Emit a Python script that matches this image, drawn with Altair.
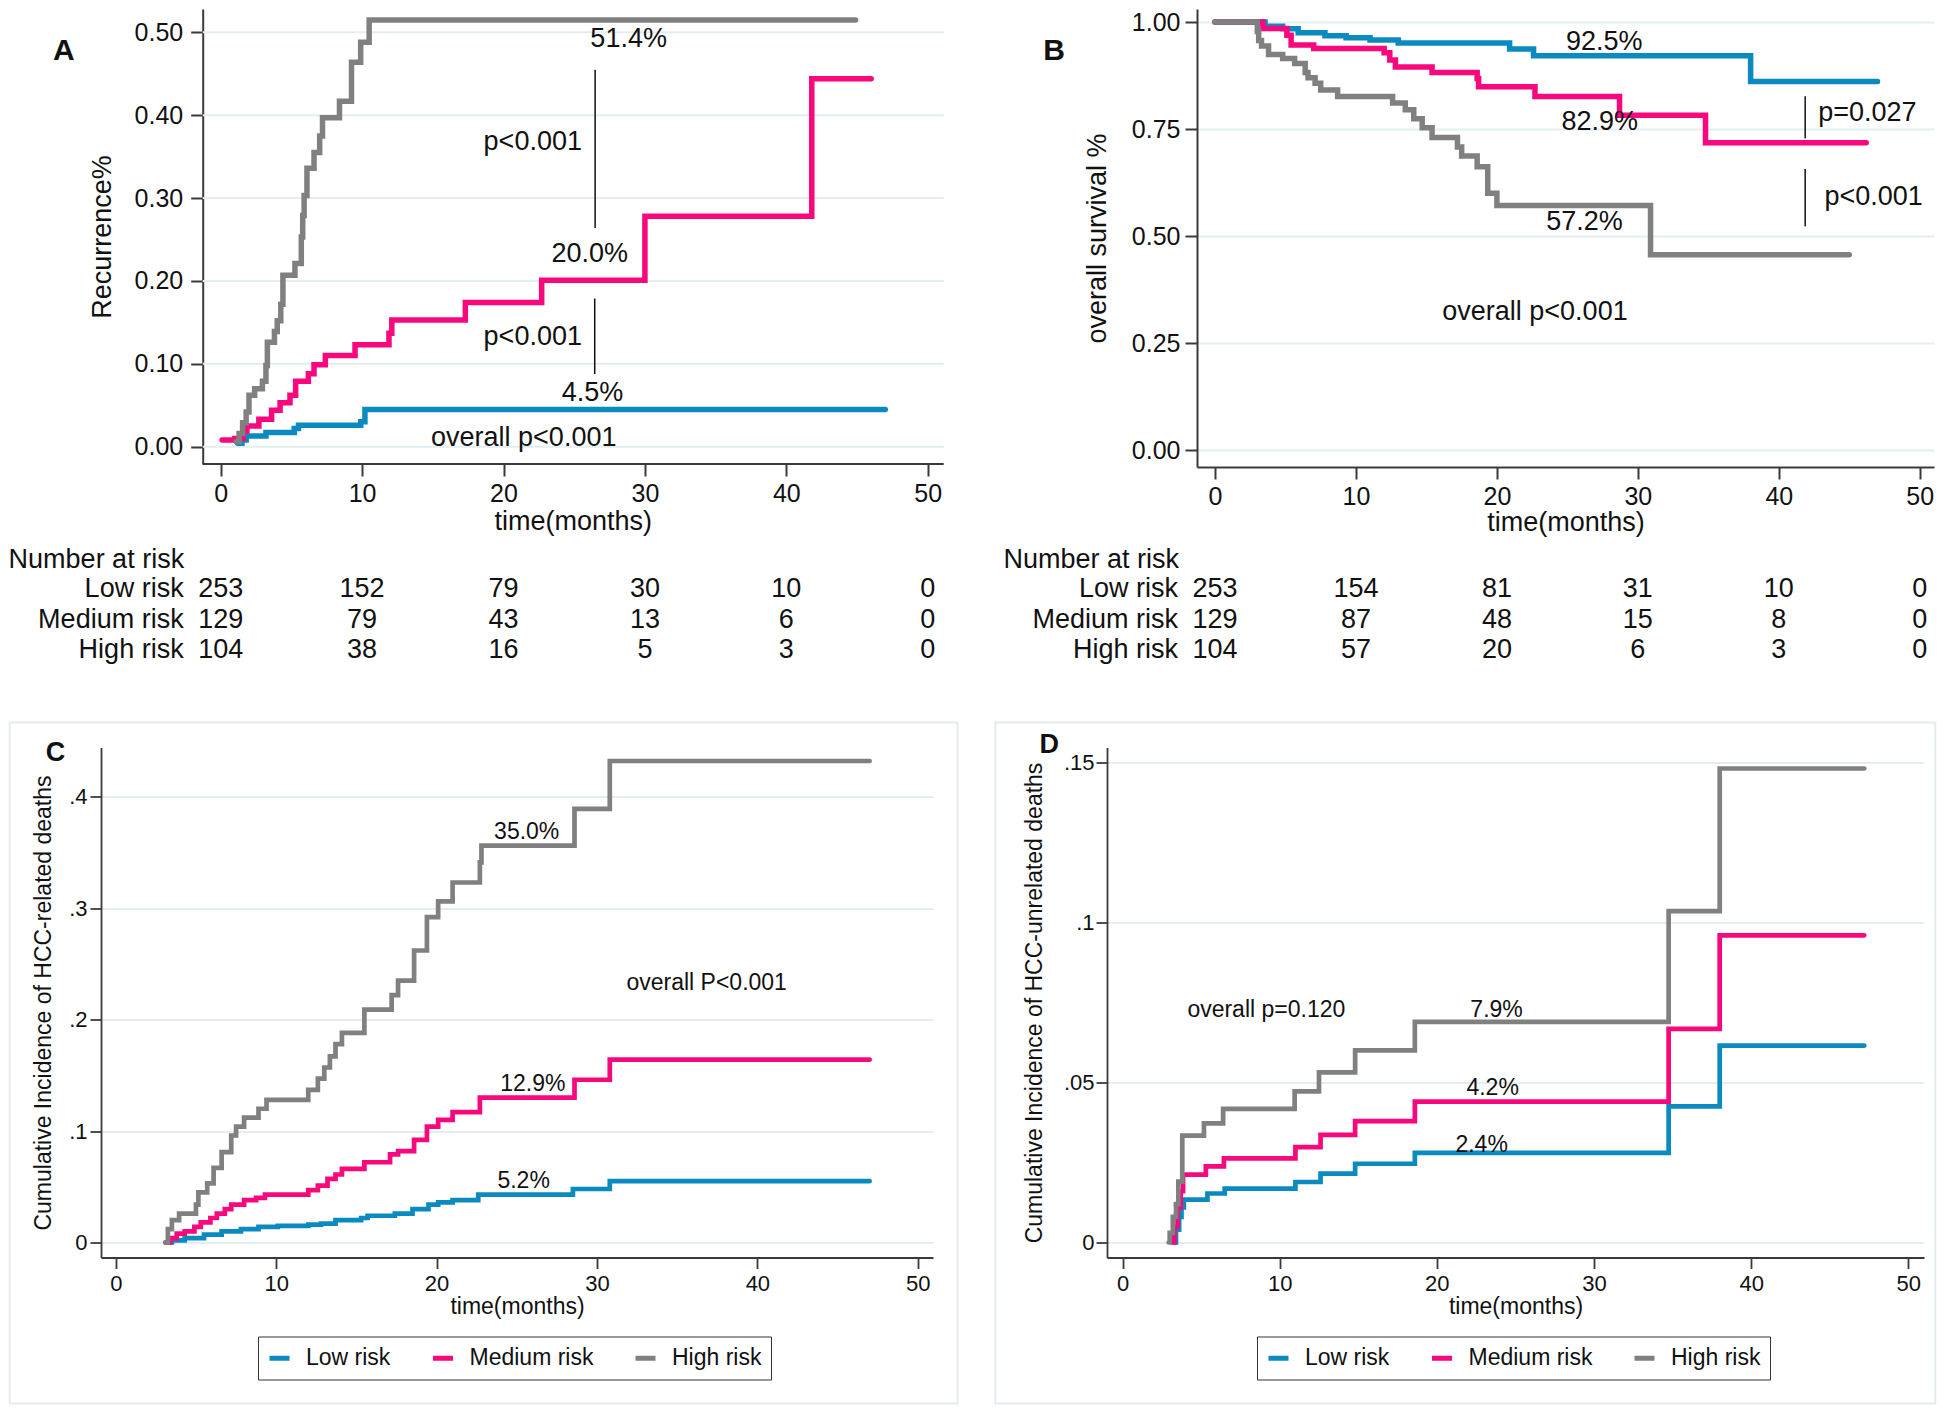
import altair as alt
import pandas as pd

FONT = "Liberation Sans"
GROUPS = ["Low risk", "Medium risk", "High risk"]
COLORS = ["#0b8ac0", "#f7087c", "#808080"]
TICKS_X = [0, 10, 20, 30, 40, 50]
INK = "#111111"
AXIS_INK = "#3a3a3a"
GRID = "#e3edf2"

# ---------------- Panel A: recurrence ----------------
A_low_t = [1.2, 1.5, 1.8, 3.2, 5.2, 5.5, 9.9, 10.2, 47.0]
A_low_v = [0.004, 0.008, 0.013, 0.017, 0.022, 0.026, 0.030, 0.045, 0.045]
A_med_t = [0.1, 1.0, 1.6, 1.85, 2.7, 3.6, 4.2, 4.9, 5.3, 6.2, 6.6, 7.4, 9.5,
           11.9, 12.1, 17.3, 22.7, 30.0, 41.8, 46.0]
A_med_v = [0.008, 0.010, 0.019, 0.025, 0.033, 0.044, 0.053, 0.062, 0.079, 0.088,
           0.099, 0.110, 0.123, 0.137, 0.153, 0.174, 0.201, 0.278, 0.444, 0.444]
A_high_t = [1.1, 1.3, 1.55, 1.8, 2.0, 2.4, 2.95, 3.2, 3.3, 3.8, 4.0, 4.25, 4.4,
            5.25, 5.7, 5.8, 5.9, 6.1, 6.6, 7.0, 7.2, 8.4, 9.25, 9.9, 10.5, 44.9]
A_high_v = [0.006, 0.016, 0.029, 0.042, 0.062, 0.070, 0.079, 0.098, 0.126, 0.139,
            0.152, 0.172, 0.207, 0.221, 0.253, 0.279, 0.303, 0.336, 0.355, 0.375,
            0.397, 0.417, 0.464, 0.488, 0.515, 0.515]
A_note_text = ["51.4%", "p<0.001", "20.0%", "p<0.001", "4.5%", "overall p<0.001"]
A_note_t = [28.85, 22.07, 26.1, 22.07, 26.3, 21.43]
A_note_v = [0.4924, 0.3676, 0.2325, 0.1323, 0.0648, 0.0099]
A_bar_t = [26.48, 26.45]
A_bar_v1 = [0.4549, 0.1788]
A_bar_v2 = [0.2638, 0.0877]
A_risk = {"Low risk": [253, 152, 79, 30, 10, 0],
          "Medium risk": [129, 79, 43, 13, 6, 0],
          "High risk": [104, 38, 16, 5, 3, 0]}

# ---------------- Panel B: overall survival ----------------
B_low_t = [0, 3.55, 4.8, 5.9, 7.8, 9.3, 11.0, 13.0, 20.9, 22.6, 38.0, 47.0]
B_low_v = [1.0, 0.990, 0.984, 0.975, 0.968, 0.963, 0.958, 0.951, 0.937, 0.921, 0.861, 0.861]
B_med_t = [0, 3.4, 5.1, 5.4, 7.0, 12.0, 12.4, 12.8, 15.4, 18.6, 18.7, 22.7, 28.7, 34.8, 46.2]
B_med_v = [1.0, 0.985, 0.969, 0.946, 0.938, 0.928, 0.911, 0.895, 0.882, 0.868,
           0.849, 0.826, 0.782, 0.718, 0.718]
B_high_t = [0, 3.0, 3.1, 3.3, 3.8, 4.8, 5.65, 6.4, 6.6, 7.1, 7.5, 8.7, 12.6, 13.5,
            14.1, 14.7, 15.4, 17.2, 17.5, 18.6, 19.35, 20.0, 30.9, 45.0]
B_high_v = [1.0, 0.978, 0.957, 0.944, 0.924, 0.915, 0.903, 0.882, 0.870, 0.857,
            0.841, 0.826, 0.811, 0.795, 0.774, 0.753, 0.730, 0.708, 0.687, 0.662,
            0.600, 0.571, 0.456, 0.456]
B_note_text = ["92.5%", "82.9%", "57.2%", "overall p<0.001"]
B_note_t = [27.61, 27.3, 26.22, 22.7]
B_note_v = [0.9544, 0.766, 0.5335, 0.3233]
B_p_text = ["p=0.027", "p<0.001"]
B_p_t = [42.8, 43.24]
B_p_v = [0.788, 0.5916]
B_bar_t = [41.87, 41.87]
B_bar_v1 = [0.8265, 0.6563]
B_bar_v2 = [0.7286, 0.523]
B_risk = {"Low risk": [253, 154, 81, 31, 10, 0],
          "Medium risk": [129, 87, 48, 15, 8, 0],
          "High risk": [104, 57, 20, 6, 3, 0]}

# ---------------- Panel C: HCC-related deaths ----------------
C_low_t = [3.1, 3.5, 4.3, 5.5, 6.6, 7.8, 8.9, 10.1, 12.0, 12.8, 13.7, 15.3, 15.7,
           17.4, 18.5, 19.5, 20.1, 21.0, 22.6, 28.5, 30.8, 47.0]
C_low_v = [0, 0.002, 0.004, 0.007, 0.010, 0.012, 0.014, 0.015, 0.016, 0.017, 0.020,
           0.022, 0.024, 0.026, 0.030, 0.034, 0.036, 0.038, 0.043, 0.048, 0.055, 0.055]
C_med_t = [3.1, 3.4, 3.8, 4.3, 4.9, 5.3, 5.9, 6.3, 6.8, 7.2, 8.0, 8.75, 9.3, 12.0,
           12.6, 13.2, 13.7, 14.1, 15.5, 17.1, 17.6, 18.6, 19.4, 20.1, 21.0, 22.7,
           28.6, 30.8, 47.0]
C_med_v = [0, 0.004, 0.008, 0.010, 0.014, 0.018, 0.022, 0.026, 0.030, 0.034, 0.038,
           0.040, 0.043, 0.047, 0.051, 0.057, 0.061, 0.066, 0.072, 0.079, 0.082,
           0.092, 0.104, 0.110, 0.117, 0.130, 0.146, 0.164, 0.164]
C_high_t = [3.1, 3.25, 3.5, 3.95, 5.0, 5.15, 5.7, 6.1, 6.6, 7.2, 7.5, 8.0, 8.9, 9.4,
            12.0, 12.6, 13.0, 13.35, 13.7, 14.1, 15.5, 17.2, 17.6, 18.6, 19.4, 20.1,
            21.0, 22.7, 22.8, 28.6, 30.8, 47.0]
C_high_v = [0, 0.012, 0.020, 0.026, 0.034, 0.045, 0.053, 0.067, 0.081, 0.096, 0.104,
            0.112, 0.120, 0.128, 0.137, 0.147, 0.157, 0.167, 0.178, 0.188, 0.209,
            0.222, 0.235, 0.262, 0.292, 0.306, 0.323, 0.341, 0.356, 0.389, 0.432, 0.432]
C_note_text = ["35.0%", "12.9%", "5.2%", "overall P<0.001"]
C_note_t = [25.62, 26.0, 25.43, 36.84]
C_note_v = [0.3679, 0.1422, 0.0549, 0.2325]

# ---------------- Panel D: HCC-unrelated deaths ----------------
D_low_t = [3.25, 3.4, 3.6, 3.75, 3.9, 5.4, 6.5, 11.0, 12.6, 14.8, 18.6, 34.75, 38.0, 47.2]
D_low_v = [0, 0.004, 0.008, 0.011, 0.0134, 0.0153, 0.0168, 0.0189, 0.0215, 0.0246,
           0.028, 0.0425, 0.0615, 0.0615]
D_med_t = [3.13, 3.3, 3.5, 3.7, 3.85, 5.3, 6.45, 11.0, 12.6, 14.8, 18.6, 34.75, 38.0, 47.2]
D_med_v = [0, 0.005, 0.011, 0.016, 0.0212, 0.0238, 0.0263, 0.0298, 0.0336, 0.0379,
           0.044, 0.0667, 0.0959, 0.0959]
D_high_t = [2.93, 3.0, 3.2, 3.4, 3.55, 3.8, 5.18, 6.4, 10.95, 12.5, 14.8, 18.6, 34.75, 38.0, 47.2]
D_high_v = [0, 0.003, 0.008, 0.012, 0.019, 0.0334, 0.0372, 0.0417, 0.0472, 0.0531,
            0.060, 0.0689, 0.1035, 0.148, 0.148]
D_note_text = ["overall p=0.120", "7.9%", "4.2%", "2.4%"]
D_note_t = [9.15, 23.8, 23.55, 22.85]
D_note_v = [0.0725, 0.0725, 0.0484, 0.0303]


def curve_df(series):
    rows = []
    for g, (t, v) in zip(GROUPS, series):
        for ti, vi in zip(t, v):
            rows.append({"group": g, "time": ti, "value": vi})
    return pd.DataFrame(rows)


def make_xy(cfg):
    manual = cfg.get("manual", False)
    xaxis = dict(values=TICKS_X, labelExpr="format(datum.value, 'd')",
                 grid=False, tickSize=cfg["tick"], tickWidth=cfg["axw"],
                 tickColor=AXIS_INK, domainColor=AXIS_INK, domainWidth=cfg["axw"],
                 labelFont=FONT, labelFontSize=cfg["fs_tick"], labelColor=INK,
                 labelPadding=cfg["xlp"], labelFlush=False, labelOverlap=False)
    if manual:
        xaxis.update(domain=False, title=None)
    else:
        xaxis.update(title="time(months)", titleFont=FONT, titleFontSize=cfg["fs_title"],
                     titleFontWeight="normal", titleColor=INK, titlePadding=cfg["xtp"])
    X = alt.X("time:Q", scale=alt.Scale(domain=cfg["xdom"], nice=False, zero=False),
              axis=alt.Axis(**xaxis))
    yaxis = dict(values=cfg["yticks"], title=cfg["ytitle"], labelExpr=cfg["ylab"],
                 grid=not manual, gridColor=GRID, gridWidth=2,
                 tickSize=cfg["tick"], tickWidth=cfg["axw"],
                 tickColor=AXIS_INK, domainColor=AXIS_INK, domainWidth=cfg["axw"],
                 labelFont=FONT, labelFontSize=cfg["fs_tick"], labelColor=INK,
                 labelPadding=cfg["ylp"], labelFlush=False, labelOverlap=False,
                 titleFont=FONT, titleFontSize=cfg["fs_title"], titleFontWeight="normal",
                 titleColor=INK, titlePadding=cfg["ytp"])
    if manual:
        yaxis.update(offset=cfg["yoffset"])
    Y = alt.Y("value:Q", scale=alt.Scale(domain=cfg["ydom"], nice=False, zero=False),
              axis=alt.Axis(**yaxis))
    return X, Y


def manual_axes(cfg, X, Y):
    """Axis line and gridlines drawn over the visible axis span only."""
    x0, x1 = cfg["xspan"]
    grid = pd.DataFrame({"time": [x0] * len(cfg["yticks"]), "time2": [x1] * len(cfg["yticks"]),
                         "value": cfg["yticks"]})
    gl = alt.Chart(grid).mark_rule(color=GRID, strokeWidth=2).encode(
        x=X, x2=alt.X2("time2:Q"), y=Y)
    base = pd.DataFrame({"time": [x0], "time2": [x1], "value": [cfg["ydom"][0]]})
    bl = alt.Chart(base).mark_rule(color=AXIS_INK, strokeWidth=cfg["axw"]).encode(
        x=X, x2=alt.X2("time2:Q"), y=Y)
    title = pd.DataFrame({"time": [cfg["xtitle_t"]], "label": ["time(months)"]})
    tl = alt.Chart(title).mark_text(font=FONT, fontSize=cfg["fs_title"], color=INK,
                                    align="center", baseline="middle").encode(
        x=X, y=alt.value(cfg["xtitle_px"]), text="label:N")
    return [gl, bl, tl]


def panel(cfg, series, notes, letter, extra=()):
    X, Y = make_xy(cfg)
    layers = list(extra)
    if cfg.get("manual", False):
        layers += manual_axes(cfg, X, Y)
    lines = alt.Chart(curve_df(series)).mark_line(
        interpolate="step-after", strokeWidth=cfg["sw"], strokeCap="round"
    ).encode(
        x=X, y=Y,
        color=alt.Color("group:N", scale=alt.Scale(domain=GROUPS, range=COLORS),
                        legend=cfg["legend"]),
    )
    layers.append(lines)
    for (txt, t, v, align) in notes:
        df = pd.DataFrame({"time": t, "value": v, "label": txt})
        layers.append(alt.Chart(df).mark_text(
            font=FONT, fontSize=cfg["fs_note"], color=INK, align=align, baseline="middle"
        ).encode(x=X, y=Y, text="label:N"))
    lt, lv, ltxt = letter
    layers.append(alt.Chart(pd.DataFrame({"time": [lt], "value": [lv], "label": [ltxt]})).mark_text(
        font=FONT, fontSize=cfg["fs_letter"], fontWeight="bold", color=INK,
        align="center", baseline="middle").encode(x=X, y=Y, text="label:N"))
    return X, Y, layers


def bars(X, Y, t, v1, v2):
    df = pd.DataFrame({"time": t, "value": v1, "value2": v2})
    return alt.Chart(df).mark_rule(color=INK, strokeWidth=1.5).encode(
        x=X, y=Y, y2=alt.Y2("value2:Q"))


def risk_table(X, risk, row_px, label_t, head_t, fs):
    out = []
    head = pd.DataFrame({"time": [head_t], "label": ["Number at risk"]})
    out.append(alt.Chart(head).mark_text(font=FONT, fontSize=fs, color=INK, align="left",
                                         baseline="middle")
               .encode(x=X, y=alt.value(row_px[0]), text="label:N"))
    for i, g in enumerate(GROUPS):
        lab = pd.DataFrame({"time": [label_t], "label": [g]})
        out.append(alt.Chart(lab).mark_text(font=FONT, fontSize=fs, color=INK, align="right",
                                            baseline="middle")
                   .encode(x=X, y=alt.value(row_px[i + 1]), text="label:N"))
        nums = pd.DataFrame({"time": TICKS_X, "label": [str(n) for n in risk[g]]})
        out.append(alt.Chart(nums).mark_text(font=FONT, fontSize=fs, color=INK, align="center",
                                             baseline="middle")
                   .encode(x=X, y=alt.value(row_px[i + 1]), text="label:N"))
    return out


def frame(x1, x2, y1, y2):
    return alt.Chart(pd.DataFrame({"k": [0]})).mark_rect(
        fillOpacity=0, stroke="#e4ebee", strokeWidth=2
    ).encode(x=alt.value(x1), x2=alt.value(x2), y=alt.value(y1), y2=alt.value(y2))


def spacer(x, y):
    # invisible layout guide that reserves room on the left of panel B
    return alt.Chart(pd.DataFrame({"k": [0]})).mark_rule(
        stroke="white", strokeOpacity=0, strokeWidth=1
    ).encode(x=alt.value(x), x2=alt.value(x + 1), y=alt.value(y), y2=alt.value(y))


def legend(lx, ly):
    return alt.Legend(orient="none", legendX=lx, legendY=ly, direction="horizontal", columns=3,
                      title=None, symbolType="stroke", symbolSize=400, symbolStrokeWidth=5,
                      labelFont=FONT, labelFontSize=23, labelColor=INK, labelOffset=14,
                      columnPadding=31.5, padding=9, strokeColor="#333333", fillColor="white")


FMT2 = "format(datum.value, '.2f')"
FMTDOT = "datum.value == 0 ? '0' : replace(format(datum.value, '~g'), '0.', '.')"
ROWS_PX = [551, 580, 611, 641]

top_common = dict(fs_tick=25, fs_title=27, fs_note=27, fs_letter=30, sw=5.5, axw=2,
                  tick=12, xlp=5, xtp=0, legend=None)
# panel A: its group starts where panel C's does; its axes are displaced to the right
cfgA = dict(top_common, xdom=[-8.465, 51.13], ydom=[-0.0209, 0.5282], width=842.7, height=455,
            yticks=[0, 0.1, 0.2, 0.3, 0.4, 0.5], ylab=FMT2, ytitle="Recurrence%", ylp=8, ytp=18,
            manual=True, yoffset=-101.7, xspan=[-1.27, 51.13], xtitle_t=24.93, xtitle_px=513)
cfgB = dict(top_common, xdom=[-1.277, 51.01], ydom=[-0.0397, 1.0304], width=737, height=458,
            yticks=[0, 0.25, 0.5, 0.75, 1.0], ylab=FMT2, ytitle="overall survival %", ylp=5, ytp=20)
bot_common = dict(fs_tick=22, fs_title=23, fs_note=23, fs_letter=27, sw=4.7, axw=1.8,
                  tick=11, xlp=5, xtp=1)
cfgC = dict(bot_common, xdom=[-0.92, 50.95], ydom=[-0.01345, 0.4441], width=832, height=510,
            yticks=[0, 0.1, 0.2, 0.3, 0.4], ylab=FMTDOT,
            ytitle="Cumulative Incidence of HCC-related deaths", ylp=3, ytp=13,
            legend=legend(157, 589))
cfgD = dict(bot_common, xdom=[-0.99, 51.0], ydom=[-0.00468, 0.15456], width=817, height=510,
            yticks=[0, 0.05, 0.1, 0.15], ylab=FMTDOT,
            ytitle="Cumulative Incidence of HCC-unrelated deaths", ylp=2, ytp=17,
            legend=legend(150, 589))

# ----- A -----
XA, YA, LA = panel(cfgA, [(A_low_t, A_low_v), (A_med_t, A_med_v), (A_high_t, A_high_v)],
                   [(A_note_text, A_note_t, A_note_v, "center")], (-11.1, 0.477, "A"))
LA.append(bars(XA, YA, A_bar_t, A_bar_v1, A_bar_v2))
LA += risk_table(XA, A_risk, ROWS_PX, -2.62, -15.0, 27)
chartA = alt.layer(*LA).properties(width=cfgA["width"], height=cfgA["height"])

# ----- B -----
XB, YB, LB = panel(cfgB, [(B_low_t, B_low_v), (B_med_t, B_med_v), (B_high_t, B_high_v)],
                   [(B_note_text, B_note_t, B_note_v, "center"), (B_p_text, B_p_t, B_p_v, "left")],
                   (-11.42, 0.932, "B"), extra=[spacer(-203, 300)])
LB.append(bars(XB, YB, B_bar_t, B_bar_v1, B_bar_v2))
LB += risk_table(XB, B_risk, ROWS_PX, -2.62, -15.0, 27)
chartB = alt.layer(*LB).properties(width=cfgB["width"], height=cfgB["height"])

# ----- C -----
XC, YC, LC = panel(cfgC, [(C_low_t, C_low_v), (C_med_t, C_med_v), (C_high_t, C_high_v)],
                   [(C_note_text, C_note_t, C_note_v, "center")], (-3.75, 0.4388, "C"),
                   extra=[frame(-91.3, 856.7, -25, 656)])
chartC = alt.layer(*LC).properties(width=cfgC["width"], height=cfgC["height"])

# ----- D -----
XD, YD, LD = panel(cfgD, [(D_low_t, D_low_v), (D_med_t, D_med_v), (D_high_t, D_high_v)],
                   [(D_note_text, D_note_t, D_note_v, "center")], (-4.66, 0.1552, "D"),
                   extra=[frame(-111.7, 828.3, -25, 656)])
chartD = alt.layer(*LD).properties(width=cfgD["width"], height=cfgD["height"])

chart = alt.concat(
    chartA, chartB, chartC, chartD, columns=2, align="none",
    spacing={"row": 58.5, "column": 35},
).resolve_scale(color="independent").resolve_legend(color="independent").properties(
    padding=0, background="white"
).configure_view(stroke=None)

chart.save("out.html", embed_options={"renderer": "svg", "actions": False})
